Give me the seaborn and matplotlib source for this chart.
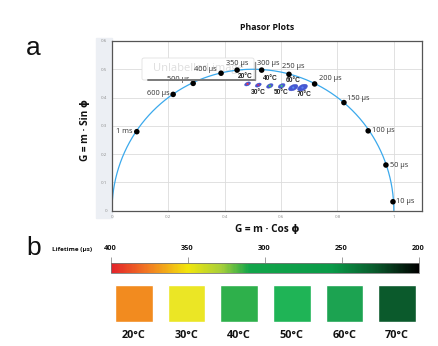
import numpy as np
import pandas as pd
import matplotlib
matplotlib.use("Agg")
import matplotlib.pyplot as plt
import seaborn as sns
from matplotlib.colors import LinearSegmentedColormap, Normalize
from matplotlib.cm import ScalarMappable
from matplotlib.path import Path
from matplotlib.patches import Rectangle, FancyBboxPatch

sns.set_style("white")
plt.rcParams['font.family'] = ['Open Sans', 'DejaVu Sans']

# ---------------- data ----------------
ref_labels = ["10 µs", "50 µs", "100 µs", "150 µs", "200 µs", "250 µs",
              "300 µs", "350 µs", "400 µs", "500 µs", "600 µs", "1 ms"]
ref_g = [0.997, 0.972, 0.909, 0.823, 0.719, 0.628, 0.531, 0.444, 0.387, 0.288, 0.217, 0.088]
ref_s = [0.031, 0.161, 0.282, 0.382, 0.448, 0.482, 0.497, 0.497, 0.486, 0.450, 0.411, 0.279]

temps = ["20°C", "30°C", "40°C", "50°C", "60°C", "70°C"]
cluster_g = [0.481, 0.519, 0.560, 0.602, 0.643, 0.676]
cluster_s = [0.448, 0.444, 0.441, 0.441, 0.435, 0.435]

lifetime_ticks = [400, 350, 300, 250, 200]
square_colors = ["#f28b1f", "#ebe625", "#2eb04b", "#1fb456", "#1ca351", "#0b5a2c"]

# ---------------- figure ----------------
fig = plt.figure(figsize=(4.38, 3.46), dpi=100)
W, H = 438, 346
def fx(px): return px / W
def fy(py): return 1 - py / H

# gray strip behind y tick labels
fig.patches.append(Rectangle((fx(96), fy(218)), fx(16), (218 - 38) / H,
                             transform=fig.transFigure, color="#eceff4", zorder=-5))

ax = fig.add_axes([fx(112), fy(210.5), fx(422) - fx(112), fy(41) - fy(210.5)])
ax.set_xlim(0, 1.1)
ax.set_ylim(0, 0.6)
ax.set_xticks([0, 0.2, 0.4, 0.6, 0.8, 1.0])
ax.set_xticklabels(["0", "0.2", "0.4", "0.6", "0.8", "1"])
ax.set_yticks([0, 0.1, 0.2, 0.3, 0.4, 0.5, 0.6])
ax.set_yticklabels(["0", "0.1", "0.2", "0.3", "0.4", "0.5", "0.6"])
ax.tick_params(labelsize=3.2, colors="#8a8a8a", length=2, width=0.5, pad=1.5)
ax.grid(True, color="#dcdcdc", lw=0.6)
ax.set_axisbelow(True)
for sp in ax.spines.values():
    sp.set_color("#555555")
    sp.set_linewidth(0.9)

# "Unlabelled image" overlay artifact (beneath the marks)
ax.add_patch(FancyBboxPatch((fx(142), fy(80)), fx(254) - fx(142), fy(58) - fy(80),
                            boxstyle="round,pad=0,rounding_size=0.005",
                            transform=fig.transFigure, fc="white", ec="#e0e0e0", lw=0.6,
                            zorder=1.5))
ax.text(fx(198), fy(69), "Unlabelled image", transform=fig.transFigure, ha="center",
        va="center", fontsize=8, color="#dedede", zorder=1.6)

# universal semicircle
theta = np.linspace(0, np.pi, 400)
circ = pd.DataFrame({"g": 0.5 + 0.5 * np.cos(theta), "s": 0.5 * np.sin(theta)})
sns.lineplot(data=circ, x="g", y="s", sort=False, color="#3ba9ec", lw=0.9, ax=ax, zorder=2)

# reference lifetime points
refdf = pd.DataFrame({"g": ref_g, "s": ref_s, "lab": ref_labels})
sns.scatterplot(data=refdf, x="g", y="s", color="black", s=16, edgecolor="none", ax=ax, zorder=5)

offsets = {
    "10 µs": (3, 0, "left"), "50 µs": (4, 0, "left"), "100 µs": (4, 0, "left"),
    "150 µs": (3, 4, "left"), "200 µs": (4, 5, "left"), "250 µs": (-7, 8, "left"),
    "300 µs": (-5, 7, "left"), "350 µs": (0, 7, "center"), "400 µs": (-4, 4, "right"),
    "500 µs": (-4, 4, "right"), "600 µs": (-4, 1, "right"), "1 ms": (-4, 0, "right"),
}
for g, s, lab in zip(ref_g, ref_s, ref_labels):
    dx, dy, ha = offsets[lab]
    ax.annotate(lab, (g, s), xytext=(dx * 0.72, dy * 0.72), textcoords="offset points",
                ha=ha, va="center", fontsize=5.3, color="#333333", zorder=6)

fig.lines.append(plt.Line2D([fx(148), fx(255)], [fy(80), fy(80)], transform=fig.transFigure,
                            color="#7a7a7a", lw=1.4, zorder=4))
fig.lines.append(plt.Line2D([fx(255), fx(255)], [fy(62), fy(80)], transform=fig.transFigure,
                            color="#8a8a8a", lw=1.0, zorder=4))

# temperature clusters
t = np.linspace(0, 2 * np.pi, 30)
ang = np.deg2rad(25)
ex, ey = np.cos(t), 0.55 * np.sin(t)
verts = np.c_[ex * np.cos(ang) - ey * np.sin(ang), ex * np.sin(ang) + ey * np.cos(ang)]
ell = Path(verts, closed=True)
cl = pd.DataFrame({"g": cluster_g, "s": cluster_s, "t": temps})
blob_sizes = [18, 18, 22, 24, 45, 50]
inner_cols = ["#e8344a", "#c0307a", "#4cc840", "#40c080", "#5a8ef0", "#5a80f0"]
sns.scatterplot(data=cl, x="g", y="s", marker=ell, s=blob_sizes, color="#4658d2",
                edgecolor="#3a4cc8", linewidth=0.3, ax=ax, zorder=7, legend=False)
sns.scatterplot(data=cl, x="g", y="s", marker="o", s=2.5, hue="t", palette=inner_cols,
                edgecolor="none", ax=ax, zorder=8, legend=False)
toffs = [(-2, 7), (0, -7), (0, 7), (0, -7), (0, 7), (2, -7)]
for g, s, lab, (dx, dy) in zip(cluster_g, cluster_s, temps, toffs):
    ax.annotate(lab, (g, s), xytext=(dx * 0.72, dy * 0.72), textcoords="offset points",
                ha="center", va="center", fontsize=4.8, fontweight="bold", color="#222222",
                zorder=9, family=["Liberation Sans Narrow", "Liberation Sans", "DejaVu Sans"])

ax.set_xlabel("")
ax.set_ylabel("")
fig.text(fx(267), fy(230), "G = m · Cos ϕ", ha="center", va="center", fontsize=7.2,
         fontweight="bold", color="#111111")
fig.text(fx(85), fy(130), "G = m · Sin ϕ", ha="center", va="center", rotation=90,
         fontsize=7.2, fontweight="bold", color="#111111")
fig.text(fx(267), fy(27), "Phasor Plots", ha="center", va="center", fontsize=6.3,
         fontweight="bold", color="#111111")
fig.text(fx(33), fy(48), "a", ha="center", va="center", fontsize=19, color="#111111",
         family=["Liberation Sans", "DejaVu Sans"])
fig.text(fx(34), fy(248), "b", ha="center", va="center", fontsize=19, color="#111111",
         family=["Liberation Sans", "DejaVu Sans"])

# ---------------- panel b: lifetime colour bar ----------------
cmap = LinearSegmentedColormap.from_list("life", [
    (0.0, "#e3202b"), (0.12, "#f27a22"), (0.25, "#f2e60c"), (0.36, "#a6cf3a"),
    (0.45, "#12a54a"), (0.72, "#0a9a48"), (0.86, "#0a5a2c"), (1.0, "#000000")])
cax = fig.add_axes([fx(110.5), fy(272.5), fx(418.5) - fx(110.5), fy(262.5) - fy(272.5)])
cb = fig.colorbar(ScalarMappable(norm=Normalize(200, 400), cmap=cmap.reversed()), cax=cax,
                  orientation="horizontal")
cax.invert_xaxis()
cb.set_ticks(lifetime_ticks)
cb.set_ticklabels([str(v) for v in lifetime_ticks])
cax.xaxis.set_ticks_position("top")
cax.tick_params(axis="x", length=4, width=0.5, color="#777777", labelsize=5.3, pad=3.5,
                labelcolor="#111111")
for lab in cax.get_xticklabels():
    lab.set_fontweight("bold")
cb.outline.set_edgecolor("#777777")
cb.outline.set_linewidth(0.6)
fig.text(fx(72), fy(249), "Lifetime (µs)", ha="center", va="center", fontsize=4.6,
         fontweight="bold", color="#111111")

# ---------------- panel b: squares ----------------
sax = fig.add_axes([fx(110), fy(322), fx(418) - fx(110), fy(285) - fy(322)])
sqdf = pd.DataFrame({"t": temps, "v": [1] * len(temps)})
sns.barplot(data=sqdf, x="t", y="v", hue="t", palette=square_colors, width=0.715,
            legend=False, ax=sax, saturation=1)
sax.set_xlim(-0.456, 5.4)
sax.set_ylim(0, 1)
sax.set_yticks([])
sax.set_xlabel("")
sax.set_ylabel("")
sns.despine(ax=sax, left=True, bottom=True)
sax.tick_params(axis="x", length=0, pad=6, labelsize=7.8, labelcolor="#111111")
for lab in sax.get_xticklabels():
    lab.set_fontweight("bold")

fig.savefig("out.png", dpi=100)
